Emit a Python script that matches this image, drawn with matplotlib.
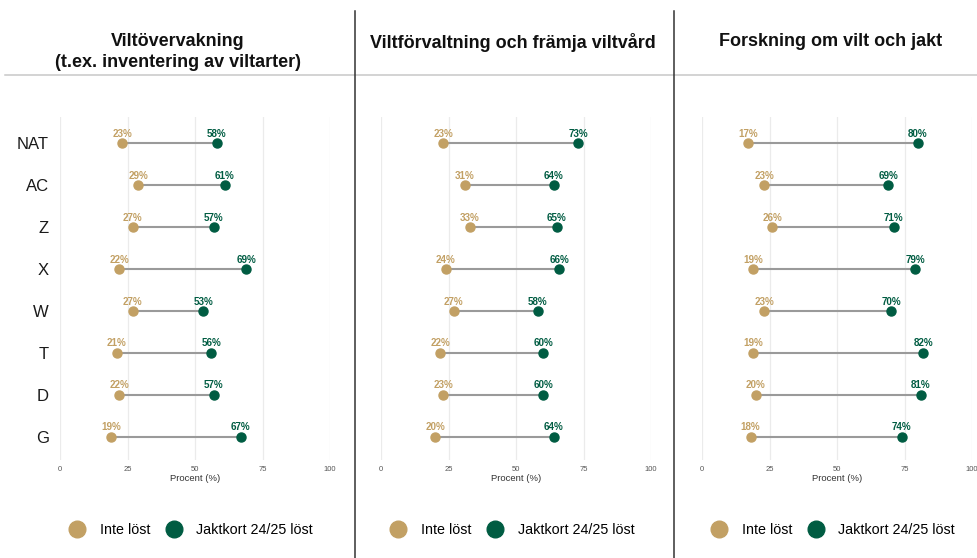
import matplotlib
matplotlib.use("Agg")
import matplotlib.pyplot as plt
from matplotlib.lines import Line2D

plt.rcParams['font.family'] = ['Liberation Sans', 'DejaVu Sans']

categories = ["NAT", "AC", "Z", "X", "W", "T", "D", "G"]

titles = [
    "Viltövervakning\n(t.ex. inventering av viltarter)",
    "Viltförvaltning och främja viltvård",
    "Forskning om vilt och jakt",
]

inte_lost_1 = [23, 29, 27, 22, 27, 21, 22, 19]
jaktkort_1 = [58, 61, 57, 69, 53, 56, 57, 67]

inte_lost_2 = [23, 31, 33, 24, 27, 22, 23, 20]
jaktkort_2 = [73, 64, 65, 66, 58, 60, 60, 64]

inte_lost_3 = [17, 23, 26, 19, 23, 19, 20, 18]
jaktkort_3 = [80, 69, 71, 79, 70, 82, 81, 74]

x_ticks = [0, 25, 50, 75, 100]
series_labels = ["Inte löst", "Jaktkort 24/25 löst"]

TAN = "#C2A064"
GREEN = "#005C42"
SEG = "#9a9a9a"

W, H = 977, 558
fig = plt.figure(figsize=(W / 100, H / 100), dpi=100)

panels = [
    (inte_lost_1, jaktkort_1),
    (inte_lost_2, jaktkort_2),
    (inte_lost_3, jaktkort_3),
]
axes_left_px = [60, 381, 702]
title_center_px = [178, 513, 831]
ax_w_px = 270
ax_top_px, ax_bot_px = 117, 460

ypos = list(range(len(categories)))

for i, (lo, hi) in enumerate(panels):
    ax = fig.add_axes([axes_left_px[i] / W, 1 - ax_bot_px / H,
                       ax_w_px / W, (ax_bot_px - ax_top_px) / H])
    ax.set_xlim(0, 100)
    ax.set_ylim(7.55, -0.62)
    for s in ax.spines.values():
        s.set_visible(False)
    ax.set_xticks(x_ticks)
    ax.set_xticklabels([str(t) for t in x_ticks], fontsize=5.5, color="#555555")
    ax.tick_params(axis="x", length=0, pad=4)
    ax.grid(axis="x", color="#ebebeb", linewidth=0.9)
    ax.set_axisbelow(True)
    ax.set_yticks(ypos)
    if i == 0:
        ax.set_yticklabels(categories, fontsize=12, color="#1a1a1a")
        ax.tick_params(axis="y", length=0, pad=8)
    else:
        ax.set_yticklabels([])
        ax.tick_params(axis="y", length=0)
    ax.set_xlabel("Procent (%)", fontsize=6.8, color="#333333", labelpad=1)

    ax.hlines(ypos, lo, hi, color=SEG, linewidth=1.5, zorder=2)
    ax.plot(lo, ypos, "o", color=TAN, markersize=6.5, zorder=3, linestyle="none")
    ax.plot(hi, ypos, "o", color=GREEN, markersize=6.5, zorder=3, linestyle="none")
    for y, a, b in zip(ypos, lo, hi):
        ax.annotate(f"{a}%", (a, y), xytext=(0, 6.8), textcoords="offset points",
                    ha="center", va="center", fontsize=7.1, fontweight="bold", color=TAN)
        ax.annotate(f"{b}%", (b, y), xytext=(0, 6.8), textcoords="offset points",
                    ha="center", va="center", fontsize=7.1, fontweight="bold", color=GREEN)

    handles = [
        Line2D([], [], marker="o", linestyle="none", color=TAN, markersize=12),
        Line2D([], [], marker="o", linestyle="none", color=GREEN, markersize=12),
    ]
    fig.legend(handles, series_labels, loc="center",
               bbox_to_anchor=((axes_left_px[i] + ax_w_px / 2 - 4) / W, 1 - 530 / H),
               ncol=2, frameon=False, fontsize=10.3, handletextpad=1.0,
               columnspacing=1.0, handlelength=1.2)

    ty = 1 - 52 / H if i == 0 else 1 - 42 / H
    fig.text(title_center_px[i] / W, ty, titles[i], ha="center", va="center",
             fontsize=13, fontweight="bold", color="#111111", linespacing=1.25)

# separators between the three panels
fig.add_artist(Line2D([5 / W, 1], [1 - 75 / H, 1 - 75 / H], color="#c8c8c8",
                      linewidth=1.1, transform=fig.transFigure))
for xp in [355, 674]:
    fig.add_artist(Line2D([xp / W, xp / W], [0, 1 - 11 / H], color="#333333",
                          linewidth=1.1, transform=fig.transFigure))

fig.savefig("out.png", dpi=100, facecolor="white")
